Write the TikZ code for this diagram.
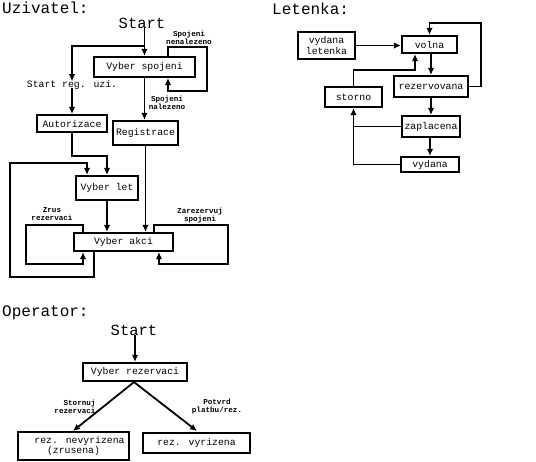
\documentclass[tikz,border=0pt]{standalone}
\usepackage{fontspec}
\setmainfont{Liberation Mono}
\usetikzlibrary{arrows.meta}
\begin{document}
\begin{tikzpicture}[x=1pt,y=-1pt,
  box/.style={draw,line width=2.2pt,inner sep=0pt,align=center,font=\fontsize{9.8}{9}\selectfont},
  ttl/.style={inner sep=0pt,anchor=west,font=\fontsize{16}{16}\selectfont},
  strt/.style={inner sep=0pt,font=\fontsize{15.5}{16}\selectfont},
  lbl/.style={inner sep=0pt,align=center,font=\fontsize{7.6}{8}\selectfont\bfseries},
  txt/.style={inner sep=0pt,font=\fontsize{9.8}{10}\selectfont},
  ln/.style={line width=1.8pt},
  arr/.style={ln,-{Latex[length=7pt,width=6.5pt]}}]
\useasboundingbox (0,0) rectangle (536,461);
% ---------------- Uzivatel
\node[ttl] (t1) at (2,8) {Uzivatel:};
\node[strt] (s1) at (142,23) {Start};
\node[box,minimum width=101pt,minimum height=20pt] (vs) at (144.5,67) {Vyber spojeni};
\node[txt] (sru) at (72,85) {Start reg. uzi.};
\node[box,minimum width=70pt,minimum height=17pt] (aut) at (72,123.5) {Autorizace};
\node[box,minimum width=65pt,minimum height=24pt] (reg) at (145.5,133) {Registrace};
\node[box,minimum width=62pt,minimum height=24pt] (vl) at (107,188) {Vyber let};
\node[box,minimum width=99pt,minimum height=18pt] (va) at (123.5,242) {Vyber akci};
\node[lbl] (lnen) at (189,38) {Spojeni\\nenalezeno};
\node[lbl] (lnal) at (167,103) {Spojeni\\nalezeno};
\node[lbl] (lzr) at (52,214) {Zrus\\rezervaci};
\node[lbl] (lza) at (200,216) {Zarezervuj\\spojeni};
\coordinate (j1) at (144.5,46);
\coordinate (lpA) at (168,47);
\coordinate (lpB) at (207,91);
\coordinate (o1) at (10,163);
\coordinate (lz) at (26,264);
\coordinate (rz1) at (228,264);
\draw[arr] (s1.south -| vs.north) -- (vs.north);
\draw[arr] (j1) -| ([yshift=-1pt]sru.north);
\draw[arr] (vs.north -| lpA) -- (lpA) -| (lpB) -| (vs.south -| lpA);
\draw[arr] (vs.south) -- (vs.south |- reg.north);
\draw[arr] ([yshift=2pt]sru.south) -- (aut.north);
\draw[arr] (aut.south) -- ++(0,23) -| (vl.north);
\draw[arr] ([xshift=-29.5pt]va.south) -- ++(0,25) -| (o1) -| ([xshift=-20pt]vl.north);
\draw[arr] (vl.south) -- (vl.south |- va.north);
\draw[arr] (reg.south) -- (reg.south |- va.north);
\draw[arr] ([xshift=-40.5pt]va.north) -- ++(0,-7) -| (lz) -| ([xshift=-40.5pt]va.south);
\draw[arr] ([xshift=30.5pt]va.north) -- ++(0,-7) -| (rz1) -| ([xshift=35.5pt]va.south);
% ---------------- Letenka
\node[ttl] (t2) at (272,9) {Letenka:};
\node[box,minimum width=57pt,minimum height=27pt] (vl2) at (326.5,45.5) {vydana\\letenka};
\node[box,minimum width=55pt,minimum height=17pt] (vo) at (429.5,44.5) {volna};
\node[box,minimum width=74pt,minimum height=21pt] (rz) at (431,86.5) {rezervovana};
\node[box,minimum width=57pt,minimum height=20pt] (st) at (353.5,97) {storno};
\node[box,minimum width=58pt,minimum height=21pt] (za) at (431,126.5) {zaplacena};
\node[box,minimum width=58pt,minimum height=15pt] (vy) at (430,164.5) {vydana};
\coordinate (lt1) at (481,23);
\draw[arr] (vl2.east) -- (vl2.east -| vo.west);
\draw[arr] (vo.south -| rz.north) -- (rz.north);
\draw[arr] (rz.east) -| (lt1) -| (vo.north);
\draw[arr] (st.north) -- ++(0,-16) -| ([xshift=-14.5pt]vo.south);
\draw[arr] (rz.south) -- (za.north);
\draw[ln] (za.west) -- (za.west -| st.south);
\draw[arr] (za.south -| vy.north) -- (vy.north);
\draw[arr] (vy.west) -| (st.south);
% ---------------- Operator
\node[ttl] (t3) at (2,313) {Operator:};
\node[strt] (s2) at (134,330) {Start};
\node[box,minimum width=104pt,minimum height=18pt] (vr) at (135,372) {Vyber rezervaci};
\node[box,minimum width=111pt,minimum height=28pt] (rn) at (73.5,446) {\hspace*{12pt}rez. nevyrizena\\(zrusena)};
\node[box,minimum width=107pt,minimum height=20pt] (rv) at (196.5,443) {rez. vyrizena};
\node[lbl,align=right] (lst) at (75,407) {Stornuj\\rezervaci};
\node[lbl] (lpo) at (217,407) {Potvrd\\platbu/rez.};
\draw[arr] (s2.south -| vr.north) -- (vr.north);
\draw[arr] ([xshift=-1pt]vr.south) -- (73,431);
\draw[arr] ([xshift=-1pt]vr.south) -- (197,431);
\end{tikzpicture}
\end{document}
